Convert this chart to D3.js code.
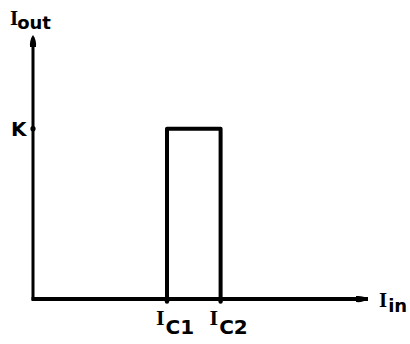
<!DOCTYPE html>
<html>
<head>
<meta charset="utf-8">
<script src="https://cdn.jsdelivr.net/npm/d3@7"></script>
<style>
  body { margin: 0; background: #fff; }
  svg { display: block; }
</style>
</head>
<body>
<svg id="chart" width="410" height="344"></svg>
<script>
'use strict';
// transfer characteristic: window comparator
var xMax = 10, yMax = 1.55;
var thresholds = [{name:'C1', value:4.0}, {name:'C2', value:5.6}];
var levelK = 1;
var pulse = [[0,0],[4.0,0],[4.0,1],[5.6,1],[5.6,0],[10,0]];

var svg = d3.select('#chart');
var x = d3.scaleLinear().domain([0, xMax]).range([33, 368]);
var y = d3.scaleLinear().domain([0, yMax]).range([299, 35]);

var sub = function(g, px, py, main, s, mainSize, subSize, dx, dy){
  var t = g.append('text').attr('x', px).attr('y', py).style('fill', '#000');
  t.append('tspan').text(main)
    .style('font-family', 'Liberation Serif').style('font-size', mainSize + 'px').style('font-weight', 'bold');
  t.append('tspan').text(s).attr('dx', dx).attr('dy', dy)
    .style('font-family', 'DejaVu Sans').style('font-size', subSize + 'px').style('font-weight', 'bold');
};

// axes
svg.append('line')
  .attr('x1', x(0)).attr('x2', x(0)).attr('y1', y(0) + 1).attr('y2', y(yMax) + 8)
  .attr('stroke', '#000').attr('stroke-width', 3);
svg.append('line')
  .attr('x1', x(0) - 1.5).attr('x2', x(xMax) - 8).attr('y1', y(0)).attr('y2', y(0))
  .attr('stroke', '#000').attr('stroke-width', 4);

// arrow heads (teardrop)
svg.append('path')
  .attr('d', 'M0,0 C-2.5,3 -3.5,8 -3,12 L3,12 C3.5,8 2.5,3 0,0 Z')
  .attr('transform', 'translate(' + x(0) + ',' + y(yMax) + ')')
  .attr('fill', '#000');
svg.append('path')
  .attr('d', 'M0,0 C-3,-2.5 -8,-3.5 -12,-3 L-12,3 C-8,3.5 -3,2.5 0,0 Z')
  .attr('transform', 'translate(' + x(xMax) + ',' + y(0) + ')')
  .attr('fill', '#000');

// K tick
svg.append('circle').attr('cx', x(0)).attr('cy', y(levelK)).attr('r', 2.6).attr('fill', '#000');
svg.append('text').text('K')
  .attr('x', 11).attr('y', y(levelK) + 7)
  .style('font-family', 'DejaVu Sans').style('font-weight', 'bold').style('font-size', '20px');

// threshold ticks
svg.selectAll('circle.th').data(thresholds).enter().append('circle')
  .attr('class', 'th')
  .attr('cx', function(d){ return x(d.value); }).attr('cy', y(0) + 2.5).attr('r', 2.2).attr('fill', '#000');

// pulse
svg.append('path')
  .datum(pulse)
  .attr('d', d3.line().x(function(d){ return x(d[0]); }).y(function(d){ return y(d[1]); }))
  .attr('fill', 'none').attr('stroke', '#000').attr('stroke-width', 4)
  .attr('stroke-linejoin', 'round');

// labels
sub(svg, 10, 25, 'I', 'out', 21, 18, -1, 4);
thresholds.forEach(function(d){
  sub(svg, x(d.value) - 11, 325, 'I', d.name, 22, 20, 1, 9);
});
sub(svg, 379, 307, 'I', 'in', 21, 18, 1, 5);
</script>
</body>
</html>
